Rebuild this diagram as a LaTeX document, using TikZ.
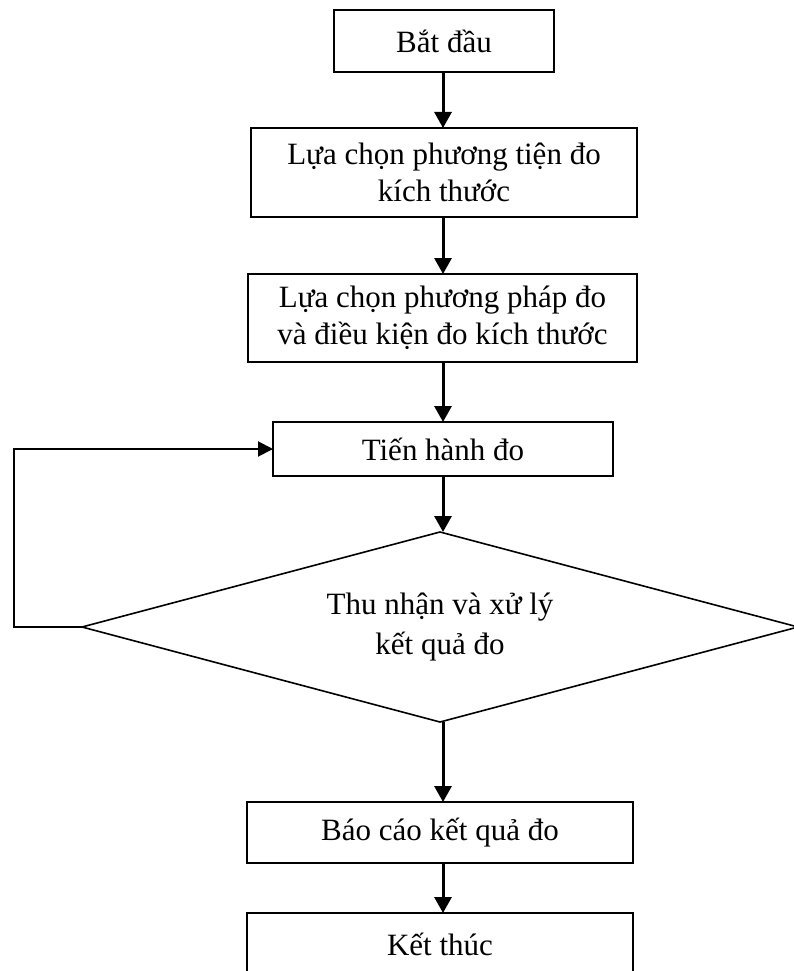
\documentclass[tikz,border=0pt]{standalone}
\usepackage{fontspec}
\setmainfont{Liberation Serif}
\usetikzlibrary{shapes.geometric,arrows.meta}
\begin{document}
\begin{tikzpicture}[x=1pt,y=-1pt,
  box/.style={draw,line width=1.6pt,inner sep=0pt,outer sep=0pt,align=center,
    font=\fontsize{31}{37}\selectfont},
  decision/.style={diamond,shape aspect=3.77,draw,line width=1.6pt,inner sep=0pt,outer sep=0pt,align=center,
    font=\fontsize{31}{40}\selectfont},
  flow/.style={line width=3pt,-{Triangle[width=17pt,length=16pt]}},
  back/.style={line width=2pt,-{Triangle[width=15pt,length=15pt]}}]
\clip (0,0) rectangle (794,971);
\node[box,minimum width=220pt,minimum height=62pt] (start) at (444,41) {Bắt đầu};
\node[box,minimum width=386pt,minimum height=89pt] (tool) at (444,172.5) {Lựa chọn phương tiện đo\\kích thước};
\node[box,minimum width=389pt,minimum height=88pt] (method) at (442.5,318) {Lựa chọn phương pháp đo\\và điều kiện đo kích thước};
\node[box,minimum width=340pt,minimum height=54pt] (measure) at (443,449) {Tiến hành đo};
\node[decision,minimum width=716pt,minimum height=190pt] (process) at (440,627) {Thu nhận và xử lý\\kết quả đo};
\node[box,minimum width=386pt,minimum height=61pt] (report) at (440,832.5) {Báo cáo kết quả đo};
\node[box,minimum width=386pt,minimum height=63pt] (stop) at (440,944.5) {Kết thúc};
\coordinate (c1) at (443,0);
\draw[flow] (start.south -| c1) -- (tool.north -| c1);
\draw[flow] (tool.south -| c1) -- (method.north -| c1);
\draw[flow] (method.south -| c1) -- (measure.north -| c1);
\draw[flow] (measure.south -| c1) -- (process.north -| c1);
\draw[flow] (process.south -| c1) -- (report.north -| c1);
\draw[flow] (report.south -| c1) -- (stop.north -| c1);
\coordinate (lc) at (14,627);
\draw[back] (process.west) -- (lc) |- (measure.west);
\end{tikzpicture}
\end{document}
